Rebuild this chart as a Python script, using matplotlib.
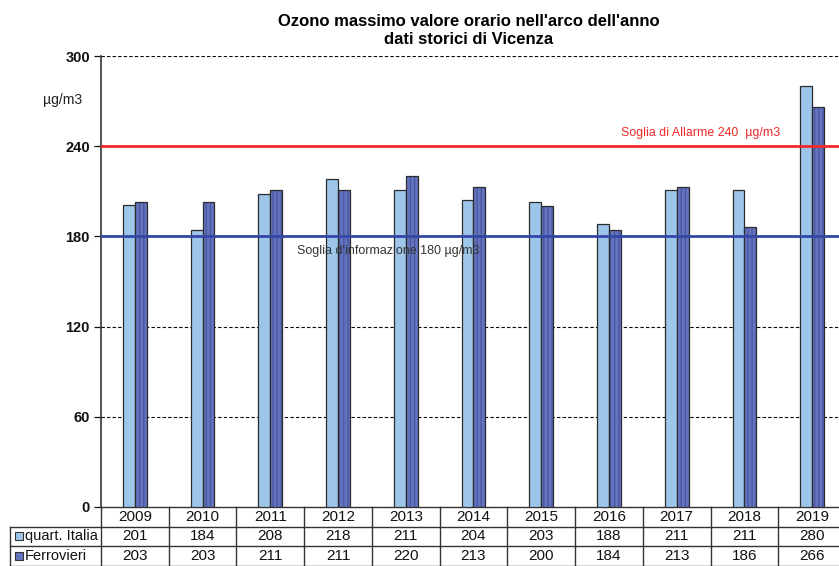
import matplotlib
matplotlib.use("Agg")
import matplotlib.pyplot as plt
import matplotlib.transforms as mtransforms
import numpy as np

plt.rcParams['font.family'] = ['Liberation Sans', 'DejaVu Sans']

years = ["2009", "2010", "2011", "2012", "2013", "2014", "2015", "2016", "2017", "2018", "2019"]
quart_italia = [201, 184, 208, 218, 211, 204, 203, 188, 211, 211, 280]
ferrovieri = [203, 203, 211, 211, 220, 213, 200, 184, 213, 186, 266]
series_names = ["quart. Italia", "Ferrovieri"]
yticks = [0, 60, 120, 180, 240, 300]
alarm = 240
info = 180
title = "Ozono massimo valore orario nell'arco dell'anno\ndati storici di Vicenza"

W, H = 839, 566
fig = plt.figure(figsize=(W / 100, H / 100), dpi=100)
left, right, bottom, top = 101, 846, 507, 56
ax = fig.add_axes([left / W, 1 - bottom / H, (right - left) / W, (bottom - top) / H])

n = len(years)
x = np.arange(n) + 0.5
bw = 0.175
light = "#9DC6EA"
dark = "#6474BE"

ax.bar(x - bw / 2, quart_italia, bw, color=light, edgecolor="#2b2b2b", linewidth=0.9, zorder=3)
ax.bar(x + bw / 2, ferrovieri, bw, color=dark, edgecolor="#4a58a0", hatch="||||", linewidth=0, zorder=3)
ax.bar(x + bw / 2, ferrovieri, bw, fill=False, edgecolor="#2b2b2b", linewidth=0.9, zorder=3)

ax.set_xlim(0, n)
ax.set_ylim(0, 300)
ax.set_yticks(yticks)
ax.set_yticklabels([str(v) for v in yticks], fontsize=10.5, fontweight="bold")
ax.tick_params(axis="y", direction="out", length=5, width=0.9, pad=3, colors="#111111")
ax.set_xticks([])
for s in ["right", "bottom", "top"]:
    ax.spines[s].set_visible(False)
ax.spines["left"].set_linewidth(1.2)
ax.spines["left"].set_color("#333333")

for v in [60, 120, 300]:
    ax.axhline(v, color="black", linestyle=(0, (3, 2)), linewidth=0.8, zorder=1)

ax.axhline(alarm, color="#F02828", linewidth=2, zorder=4)
ax.axhline(info, color="#3347A8", linewidth=2, zorder=4)

ax.text(8.85, 248.5, "Soglia di Allarme 240  µg/m3", color="#F02828", fontsize=8.9,
        ha="center", va="center", zorder=5)
ax.text(4.24, 170.5, "Soglia d'informazione 180 µg/m3", color="#333333", fontsize=9.0,
        ha="center", va="center", zorder=5)

trans_ax_y = mtransforms.blended_transform_factory(ax.transAxes, ax.transData)
ax.text(-0.052, 270.5, "µg/m3", transform=trans_ax_y, fontsize=10, ha="center", va="center",
        color="#222222")

fig.text(469 / W, 1 - 30.5 / H, title, ha="center", va="center", fontsize=12,
         fontweight="bold", linespacing=1.3)

# data table below axes
rh = 19.6 / (bottom - top)
lab_x = (10 - left) / ((right - left) / n)
tcol = "#333333"
trans_d_ax = mtransforms.blended_transform_factory(ax.transData, ax.transAxes)
lkw = dict(color=tcol, linewidth=1.0, clip_on=False, transform=trans_d_ax)
ax.plot([0, n], [0, 0], **lkw)
for r in [1, 2, 3]:
    ax.plot([lab_x, n], [-r * rh, -r * rh], **lkw)
for i in range(n + 1):
    ax.plot([i, i], [0, -3 * rh], **lkw)
ax.plot([lab_x, lab_x], [-rh, -3 * rh], **lkw)

for i, yr in enumerate(years):
    ax.text(x[i], -0.5 * rh, yr, transform=trans_d_ax, ha="center", va="center",
            fontsize=11, color="#111111", clip_on=False)
    ax.text(x[i], -1.5 * rh, str(quart_italia[i]), transform=trans_d_ax, ha="center",
            va="center", fontsize=11, color="#111111", clip_on=False)
    ax.text(x[i], -2.5 * rh, str(ferrovieri[i]), transform=trans_d_ax, ha="center",
            va="center", fontsize=11, color="#111111", clip_on=False)

sq_x = lab_x + 8.5 / ((right - left) / n)
for r, (name, col) in enumerate(zip(series_names, [light, dark])):
    yy = -(1.5 + r) * rh
    ax.plot([sq_x], [yy], marker="s", markersize=6, markerfacecolor=col,
            markeredgecolor="#333333", markeredgewidth=0.8, transform=trans_d_ax, clip_on=False)
    ax.text(sq_x + 0.09, yy, name, transform=trans_d_ax, ha="left", va="center",
            fontsize=10.5, color="#111111", clip_on=False)

fig.savefig("out.png", dpi=100)
